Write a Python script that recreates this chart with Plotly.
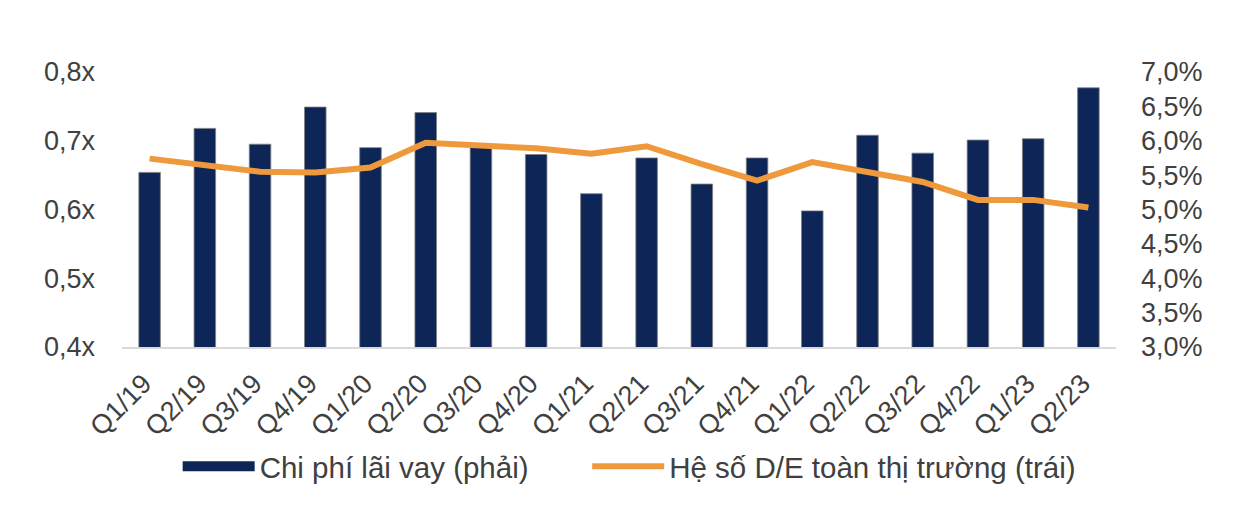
import plotly.graph_objects as go

quarters = ["Q1/19", "Q2/19", "Q3/19", "Q4/19", "Q1/20", "Q2/20", "Q3/20", "Q4/20",
            "Q1/21", "Q2/21", "Q3/21", "Q4/21", "Q1/22", "Q2/22", "Q3/22", "Q4/22",
            "Q1/23", "Q2/23"]
interest_cost = [0.0554, 0.0618, 0.0595, 0.0649, 0.0590, 0.0641, 0.0591, 0.0580,
                 0.0523, 0.0575, 0.0537, 0.0575, 0.0498, 0.0608, 0.0582, 0.0601,
                 0.0603, 0.0677]
de_ratio = [0.674, 0.665, 0.655, 0.654, 0.661, 0.697, 0.692, 0.689,
            0.681, 0.692, 0.666, 0.642, 0.669, 0.654, 0.640, 0.614,
            0.614, 0.603]

BAR_NAME = "Chi phí lãi vay (phải)"
LINE_NAME = "Hệ số D/E toàn thị trường (trái)"

FONT = "Liberation Sans, Arial, sans-serif"
TXT = "#404040"
NAVY = "#0e2657"
ORANGE = "#ee9a3c"

fig = go.Figure()
fig.add_trace(go.Bar(
    x=quarters, y=interest_cost, name=BAR_NAME, showlegend=False,
    marker=dict(color=NAVY, line=dict(color="#7f7f7f", width=0.8)),
    yaxis="y",
))
# legend-only entry giving the wide rectangular swatch of the original legend
fig.add_trace(go.Scatter(
    x=[None], y=[None], name=BAR_NAME, mode="lines",
    line=dict(color=NAVY, width=16), yaxis="y", hoverinfo="skip",
    legend="legend",
))
fig.add_trace(go.Scatter(
    x=quarters, y=de_ratio, name=LINE_NAME,
    mode="lines", line=dict(color=ORANGE, width=6),
    yaxis="y2", legend="legend2",
))

legend_common = dict(orientation="h", xanchor="left", y=-0.34, yanchor="top",
                     font=dict(size=29.5, color=TXT), itemwidth=72,
                     bgcolor="rgba(0,0,0,0)")

fig.update_layout(
    width=1258, height=516,
    margin=dict(l=114, r=150, t=64, b=177, autoexpand=False),
    paper_bgcolor="white", plot_bgcolor="white",
    separators=",.",
    font=dict(family=FONT, size=27, color=TXT),
    bargap=0.61,
    showlegend=True,
    legend=dict(x=0.056, **legend_common),
    legend2=dict(x=0.468, **legend_common),
    xaxis=dict(showgrid=False, showline=True, linecolor="#d9d9d9", linewidth=2,
               tickangle=-45, tickfont=dict(size=27, color=TXT), ticks="",
               ticklabelstandoff=8, ticklabelshift=-6, automargin=False),
    yaxis=dict(side="right", range=[0.03, 0.07], dtick=0.005, tickformat=".1%",
               showgrid=False, zeroline=False, showline=False, ticks="",
               tickfont=dict(size=27, color=TXT), ticklabelstandoff=24,
               automargin=False),
    yaxis2=dict(side="left", overlaying="y", range=[0.4, 0.8], dtick=0.1,
                tickformat=".1f", ticksuffix="x", showgrid=False, zeroline=False,
                showline=False, ticks="", tickfont=dict(size=27, color=TXT),
                ticklabelstandoff=26, automargin=False),
)

fig.write_html("out.html")
